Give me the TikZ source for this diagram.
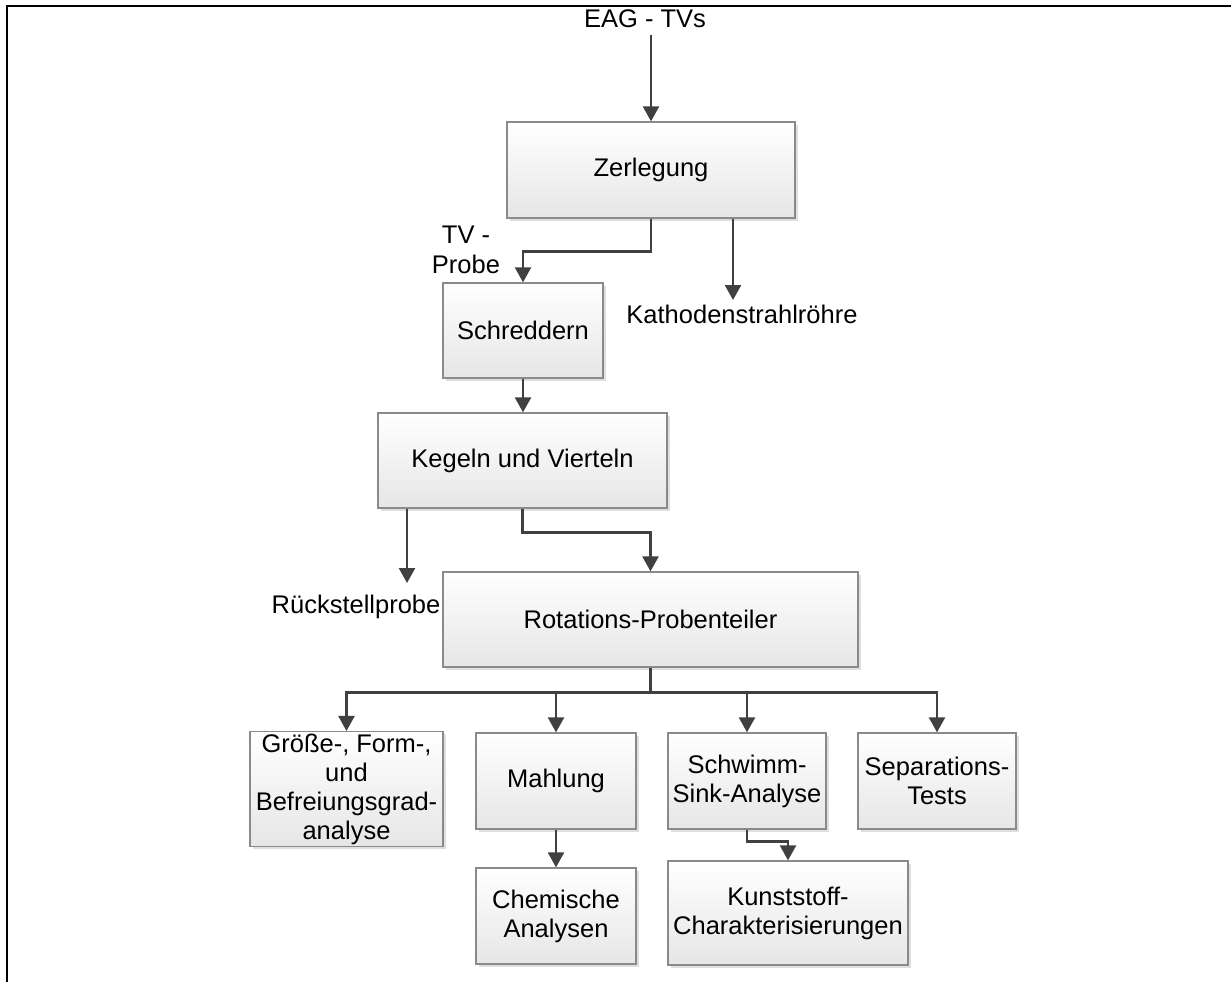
\documentclass[tikz,border=0pt]{standalone}
\usepackage{fontspec}
\setmainfont{Liberation Sans}
\usetikzlibrary{arrows.meta,shadows}
\definecolor{arrcol}{HTML}{404040}
\definecolor{boxline}{HTML}{8A8A8A}
\definecolor{boxbot}{HTML}{E6E6E6}
\tikzset{
  pbox/.style={draw=boxline, line width=1.3pt, top color=white, bottom color=boxbot,
    align=center, inner sep=2pt, font=\fontsize{25.5}{29}\selectfont,
    drop shadow={shadow xshift=2.5pt, shadow yshift=-2.5pt, opacity=0.25, fill=gray}},
  lbl/.style={align=center, inner sep=0pt, font=\fontsize{25.5}{30}\selectfont},
  arr/.style={draw=arrcol, line width=2.4pt, -{Triangle[width=16pt,length=15pt]}},
}
\begin{document}
\begin{tikzpicture}[x=1pt,y=-1pt]
\useasboundingbox (0,0) rectangle (1231,982);
\draw[line width=2pt, line cap=rect] (7,982) -- (7,6) -- (1231,6);

\node[pbox, minimum width=288pt, minimum height=96pt] (zer) at (651,170) {Zerlegung};
\node[pbox, minimum width=160pt, minimum height=95pt] (sch) at (523,330.5) {Schreddern};
\node[pbox, minimum width=289pt, minimum height=95pt] (keg) at (522.5,460.5) {Kegeln und Vierteln};
\node[pbox, minimum width=415pt, minimum height=95pt] (rot) at (650.5,619.5) {Rotations-Probenteiler};
\node[pbox, minimum width=193pt, minimum height=114pt] (gro) at (346.5,789) {Größe-, Form-,\\und\\Befreiungsgrad-\\analyse};
\node[pbox, minimum width=160pt, minimum height=96pt] (mah) at (556,781) {Mahlung};
\node[pbox, minimum width=158pt, minimum height=96pt] (schw) at (747,781) {Schwimm-\\Sink-Analyse};
\node[pbox, minimum width=158pt, minimum height=96pt] (sep) at (937,781) {Separations-\\Tests};
\node[pbox, minimum width=160pt, minimum height=96pt] (che) at (556,916) {Chemische\\Analysen};
\node[pbox, minimum width=240pt, minimum height=104pt] (kun) at (788,913) {Kunststoff-\\Charakterisierungen};

\node[lbl] (eag) at (645,19) {EAG - TVs};
\node[lbl] (tvp) at (466,250) {TV -\\Probe};
\node[lbl] (kath) at (742,314) {Kathodenstrahlröhre};
\node[lbl] (rueck) at (356,607) {Rückstellprobe};
\coordinate (kathend) at (733,300);
\coordinate (rueckend) at (407,583);

\draw[arr] (zer.north |- 0,35) -- (zer.north);
\draw[arr] (zer.south) -- ++(0,33) -| (sch.north);
\draw[arr] (zer.south -| kathend) -- (kathend);
\draw[arr] (sch.south) -- (sch.south |- keg.north);
\draw[arr] (keg.south) -- ++(0,24) -| (rot.north);
\draw[arr] (keg.south -| rueckend) -- (rueckend);
\draw[arr] (rot.south) -- ++(0,25) -| (gro.north);
\draw[arr] (rot.south) -- ++(0,25) -| (mah.north);
\draw[arr] (rot.south) -- ++(0,25) -| (schw.north);
\draw[arr] (rot.south) -- ++(0,25) -| (sep.north);
\draw[arr] (mah.south) -- (che.north);
\draw[arr] (schw.south) -- ++(0,12) -| (kun.north);
\end{tikzpicture}
\end{document}
